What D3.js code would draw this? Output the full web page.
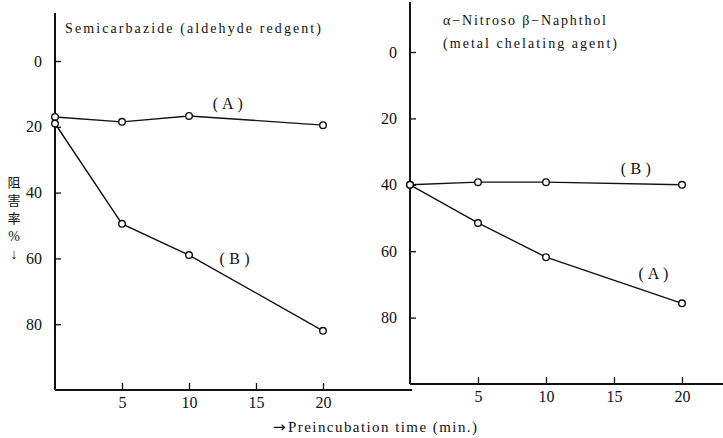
<!DOCTYPE html>
<html>
<head>
<meta charset="utf-8">
<script src="https://cdn.jsdelivr.net/npm/d3@7"></script>
<style>
  body { margin: 0; background: #fff; }
  svg text { font-family: "Liberation Serif", "DejaVu Serif", serif; fill: #111; }
  svg text.cjk { font-family: "Noto Sans CJK JP", "Noto Sans CJK SC", sans-serif; }
</style>
</head>
<body>
<div id="chart"></div>
<script>
// data
var times = [0, 5, 10, 20];
var xTicks = [5, 10, 15, 20];
var yTicks = [0, 20, 40, 60, 80];

// left: Semicarbazide
var semiA = [17, 18.5, 16.7, 19.5];
var semiB = [19, 49.5, 59, 82];
// right: a-Nitroso b-Naphthol
var nitroA = [40, 51.5, 61.8, 75.7];
var nitroB = [40, 39.2, 39.2, 40];

var w = 723, h = 438;

var svg = d3.select("#chart")
  .append("svg")
  .attr("width", w)
  .attr("height", h);

var drawPanel = function (opt) {
  var xScale = d3.scaleLinear().domain([0, 20]).range(opt.xr);
  var yScale = d3.scaleLinear().domain([0, 100]).range(opt.yr);
  var g = svg.append("g");

  // y axis line
  g.append("line")
    .attr("x1", xScale(0)).attr("x2", xScale(0))
    .attr("y1", opt.top).attr("y2", yScale(100))
    .attr("stroke", "#111").attr("stroke-width", 2);

  var yAxis = d3.axisLeft(yScale)
    .tickValues(yTicks)
    .tickSize(-6)
    .tickPadding(13)
    .tickFormat(d3.format("d"));
  var ya = g.append("g")
    .attr("transform", "translate(" + xScale(0) + ",0)")
    .call(yAxis);
  ya.select(".domain").remove();
  ya.selectAll("line").attr("stroke", "#111").attr("stroke-width", 1.3);
  ya.selectAll("text").attr("font-size", 16).attr("font-family", "Liberation Serif");

  var xAxis = d3.axisBottom(xScale)
    .tickValues(xTicks)
    .tickSize(-7)
    .tickPadding(7);
  var xa = g.append("g")
    .attr("transform", "translate(0," + yScale(100) + ")")
    .call(xAxis);
  xa.select(".domain").remove();
  xa.selectAll("line").attr("stroke", "#111").attr("stroke-width", 1.3);
  xa.selectAll("text").attr("font-size", 16).attr("font-family", "Liberation Serif");

  // x axis baseline
  g.append("line")
    .attr("x1", xScale(0)).attr("x2", opt.xEnd)
    .attr("y1", yScale(100)).attr("y2", yScale(100))
    .attr("stroke", "#111").attr("stroke-width", 2);

  var lineGen = d3.line()
    .x(function(d, i) { return xScale(times[i]); })
    .y(function(d) { return yScale(d); });

  opt.series.forEach(function(s) {
    g.append("path")
      .attr("d", lineGen(s.values))
      .attr("fill", "none")
      .attr("stroke", "#111")
      .attr("stroke-width", 1.4);
    g.selectAll(null)
      .data(s.values)
      .enter()
      .append("circle")
      .attr("cx", function(d, i) { return xScale(times[i]); })
      .attr("cy", function(d) { return yScale(d); })
      .attr("r", 3.3)
      .attr("fill", "#fff")
      .attr("stroke", "#111")
      .attr("stroke-width", 1.4);
    g.append("text")
      .attr("x", xScale(s.labelAt[0]) - 15)
      .attr("y", yScale(s.labelAt[1]))
      .attr("font-size", 16)
      .attr("textLength", 30)
      .attr("lengthAdjust", "spacing")
      .text(s.name);
  });

  opt.title.forEach(function(t) {
    g.append("text")
      .attr("x", t.x)
      .attr("y", t.y)
      .attr("font-size", 14)
      .attr("textLength", t.len)
      .attr("lengthAdjust", "spacing")
      .text(t.text);
  });
};

drawPanel({
  xr: [55, 323],
  yr: [61, 390],
  top: 13,
  xEnd: 412,
  series: [
    {name: "(A)", values: semiA, labelAt: [12.9, 14.6]},
    {name: "(B)", values: semiB, labelAt: [13.4, 61.8]}
  ],
  title: [
    {text: "Semicarbazide (aldehyde redgent)", x: 65, y: 33, len: 256}
  ]
});

drawPanel({
  xr: [410, 682],
  yr: [52, 384],
  top: 2,
  xEnd: 723,
  series: [
    {name: "(B)", values: nitroB, labelAt: [16.6, 36.6]},
    {name: "(A)", values: nitroA, labelAt: [17.9, 68.3]}
  ],
  title: [
    {text: "α−Nitroso β−Naphthol", x: 443, y: 25, len: 163},
    {text: "(metal chelating agent)", x: 443, y: 48, len: 174}
  ]
});

// vertical y label, one glyph per line
var yLab = ["阻", "害", "率", "%", "↓"];
svg.append("g")
  .selectAll("text")
  .data(yLab)
  .enter()
  .append("text")
  .attr("class", function(d, i) { return i < 3 ? "cjk" : null; })
  .attr("x", 14)
  .attr("y", function(d, i) { return 187 + i * 18; })
  .attr("text-anchor", "middle")
  .attr("font-size", function(d, i) { return i < 3 ? 13 : 14; })
  .text(function(d) { return d; });

svg.append("text")
  .attr("x", 273)
  .attr("y", 432)
  .attr("font-size", 15)
  .style("font-family", "'DejaVu Sans'")
  .text("→");
svg.append("text")
  .attr("x", 288)
  .attr("y", 432)
  .attr("font-size", 15)
  .attr("textLength", 189)
  .attr("lengthAdjust", "spacing")
  .text("Preincubation time (min.)");
</script>
</body>
</html>
